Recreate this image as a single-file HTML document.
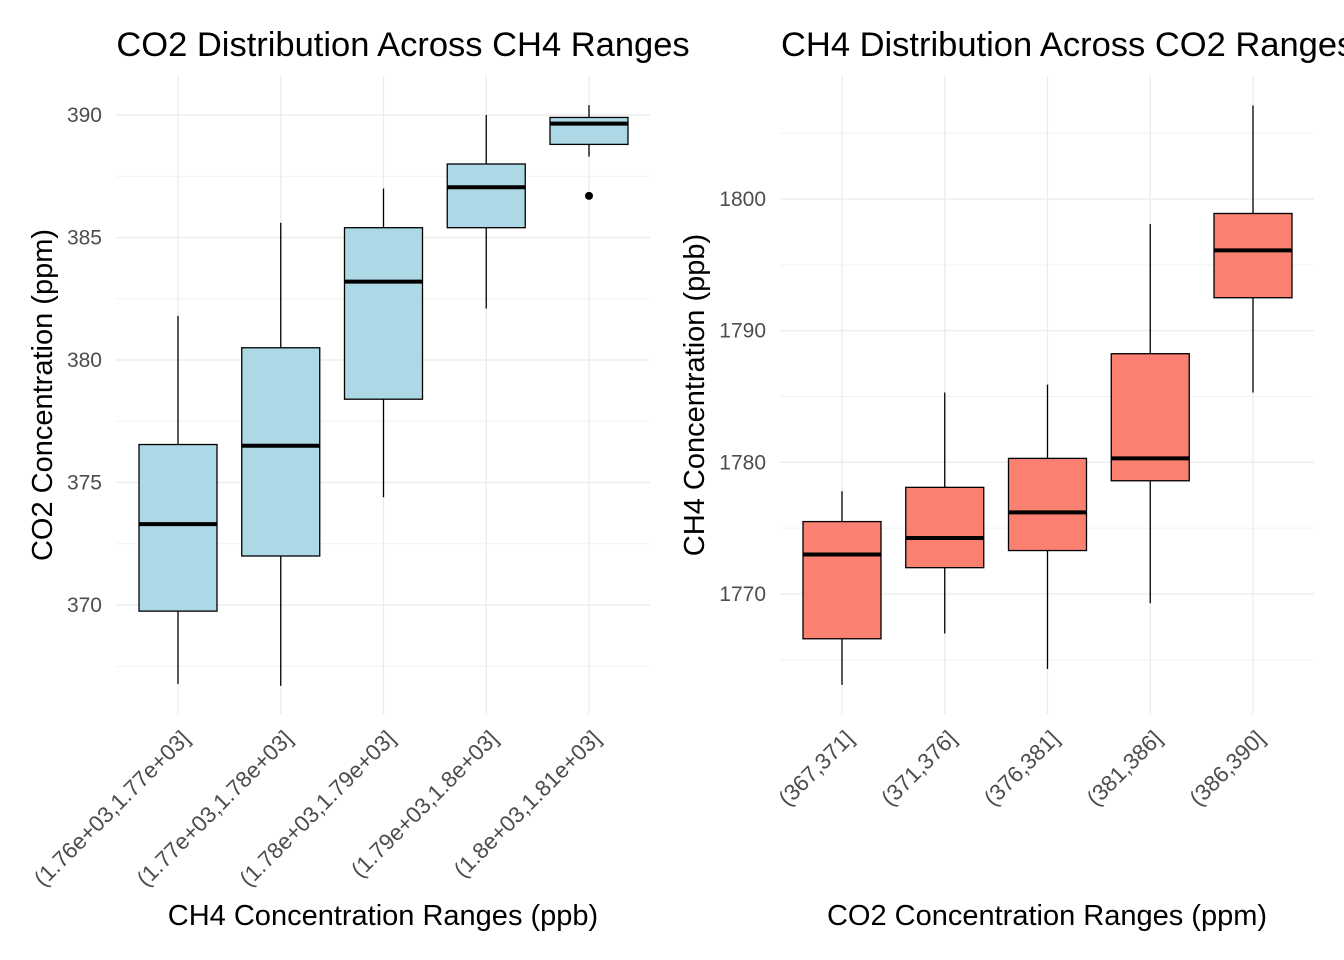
<!DOCTYPE html>
<html><head><meta charset="utf-8"><style>
body{margin:0;background:#fff;overflow:hidden;}
svg{display:block;font-family:"Liberation Sans",Arial,sans-serif;}
</style></head><body>
<svg id="chart" width="1344" height="960"></svg>
<script>
const leftCats=["(1.76e+03,1.77e+03]","(1.77e+03,1.78e+03]","(1.78e+03,1.79e+03]","(1.79e+03,1.8e+03]","(1.8e+03,1.81e+03]"];
const leftLow=[366.78,366.7,374.4,382.1,388.3];
const leftQ1=[369.75,372.0,378.4,385.4,388.8];
const leftMed=[373.3,376.5,383.2,387.05,389.65];
const leftQ3=[376.55,380.5,385.4,388.0,389.9];
const leftHigh=[381.8,385.6,387.0,390.0,390.4];
const leftOutliers=[[4,386.7]];
const leftTicks=[370,375,380,385,390];
const rightCats=["(367,371]","(371,376]","(376,381]","(381,386]","(386,390]"];
const rightLow=[1763.1,1767.0,1764.3,1769.3,1785.3];
const rightQ1=[1766.6,1772.0,1773.3,1778.6,1792.5];
const rightMed=[1773.0,1774.25,1776.2,1780.3,1796.1];
const rightQ3=[1775.5,1778.1,1780.3,1788.25,1798.9];
const rightHigh=[1777.8,1785.3,1785.9,1798.1,1807.1];
const rightTicks=[1770,1780,1790,1800];

const svg=document.getElementById('chart');
const NS='http://www.w3.org/2000/svg';
function mk(tag,attrs,parent){const e=document.createElementNS(NS,tag);for(const k in attrs)e.setAttribute(k,attrs[k]);(parent||svg).appendChild(e);return e;}

function panel(o){
  const g=mk('g',{});
  
  
  const y=v=>o.y0px+(v-o.y0)*(o.y1px-o.y0px)/(o.y1-o.y0);
  const x=i=>o.x0+i*o.step;
  const step=o.ticks[1]-o.ticks[0];
  for(let k=-1;k<o.ticks.length;k++){const v=o.ticks[0]+step*(k+0.5);const py=y(v);if(py<o.top||py>o.bottom)continue;
    mk('line',{x1:o.left,x2:o.right,y1:py,y2:py,stroke:'#f2f2f2','stroke-width':1},g);}
  o.ticks.forEach(t=>{const py=y(t);
    const l=mk('line',{x1:o.left,x2:o.right,y1:py,y2:py,stroke:'#ebebeb','stroke-width':1.3},g);
    
    const tx=mk('text',{x:o.left-14,y:py+7,'text-anchor':'end','font-size':21,fill:'#4d4d4d'},g);tx.textContent=t;
    });
  o.cats.forEach((c,i)=>{const px=x(i);
    mk('line',{x1:px,x2:px,y1:o.top,y2:o.bottom,stroke:'#ebebeb','stroke-width':1.3},g);
    const tx=mk('text',{x:0,y:0,'text-anchor':'end','font-size':22.5,fill:'#4d4d4d',transform:`translate(${px+13},${o.bottom+26}) rotate(-45)`},g);tx.textContent=c;
    
    const bw=78;
    const w=mk('line',{x1:px,x2:px,y1:y(o.low[i]),y2:y(o.high[i]),stroke:'#000','stroke-width':1.3},g);
    
    const r=mk('rect',{x:px-bw/2,y:y(o.q3[i]),width:bw,height:y(o.q1[i])-y(o.q3[i]),fill:o.fill,stroke:'#000','stroke-width':1.3},g);
    
    const m=mk('line',{x1:px-bw/2,x2:px+bw/2,y1:y(o.med[i]),y2:y(o.med[i]),stroke:'#000','stroke-width':4},g);
    
  });
  (o.outliers||[]).forEach(p=>{const c=mk('circle',{cx:x(p[0]),cy:y(p[1]),r:4,fill:'#000'},g);
    });
  const t=mk('text',{x:o.titleX,y:56,'text-anchor':o.titleAnchor,'font-size':34.5,fill:'#000'},g);t.textContent=o.title;
  
  const xt=mk('text',{x:o.xTitleX,y:925,'text-anchor':'middle','font-size':29,fill:'#000'},g);xt.textContent=o.xTitle;
  
  const yt=mk('text',{x:0,y:0,'text-anchor':'middle','font-size':29,fill:'#000',transform:`translate(${o.yTitleX},${(o.top+o.bottom)/2}) rotate(-90)`},g);yt.textContent=o.yTitle;
  
}
panel({name:'left-panel',cats:leftCats,low:leftLow,q1:leftQ1,med:leftMed,q3:leftQ3,high:leftHigh,outliers:leftOutliers,ticks:leftTicks,
  y0:370,y1:390,y0px:605,y1px:115,x0:178,step:102.75,left:116,right:650,top:76,bottom:714,fill:'#add8e6',
  title:'CO2 Distribution Across CH4 Ranges',titleX:403,titleAnchor:'middle',xTitle:'CH4 Concentration Ranges (ppb)',xTitleX:383,yTitle:'CO2 Concentration (ppm)',yTitleX:52});
panel({name:'right-panel',cats:rightCats,low:rightLow,q1:rightQ1,med:rightMed,q3:rightQ3,high:rightHigh,ticks:rightTicks,
  y0:1770,y1:1800,y0px:594,y1px:199,x0:842,step:102.75,left:780,right:1314,top:76,bottom:714,fill:'#fa8072',
  title:'CH4 Distribution Across CO2 Ranges',titleX:781,titleAnchor:'start',xTitle:'CO2 Concentration Ranges (ppm)',xTitleX:1047,yTitle:'CH4 Concentration (ppb)',yTitleX:704});
</script>
</body></html>
